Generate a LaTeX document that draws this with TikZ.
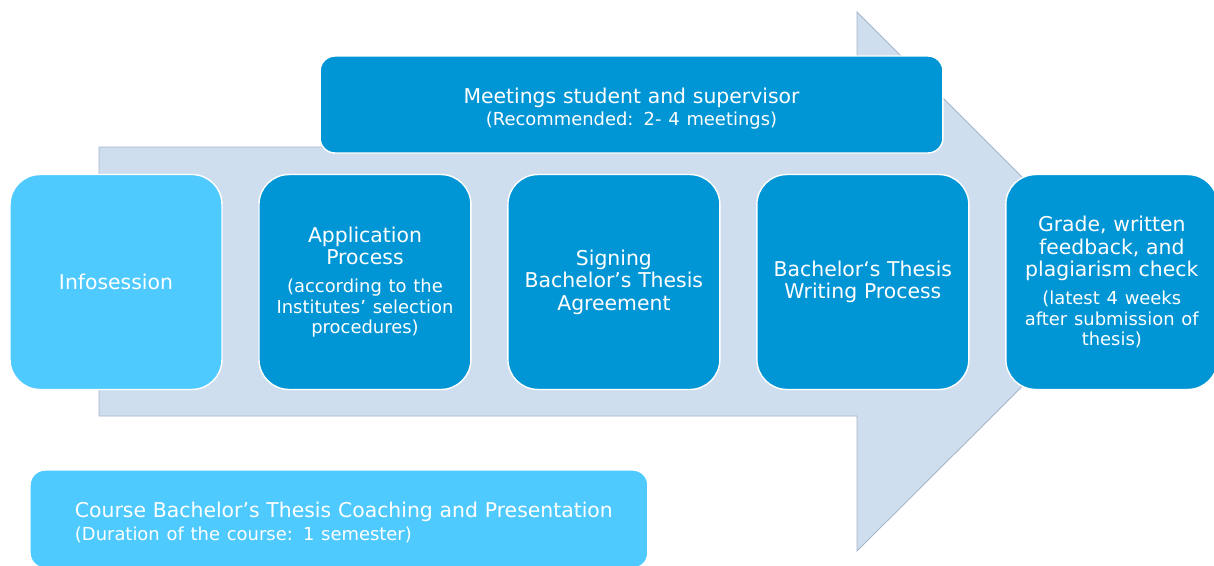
\documentclass[tikz,border=0pt]{standalone}
\usepackage{fontspec}
\setmainfont{DejaVu Sans}
\usepackage{tikz}
\usetikzlibrary{
  positioning
}
\definecolor{flowsky}{RGB}{79,202,255}
\definecolor{flowblue}{RGB}{0,150,214}
\definecolor{flowshaft}{RGB}{206,222,238}
\definecolor{flowedge}{RGB}{165,180,200}
\newcommand{\flowMain}{\fontsize{11.6}{12.8}\selectfont}
\newcommand{\flowNote}[2][0pt]{\par\vspace{#1}{\fontsize{10.2}{11.5}\selectfont #2\par}}
\tikzset{
  flowStep/.style={
    rectangle,
    rounded corners=0.6cm,
    draw=white,
    line width=0.8pt,
    fill=flowblue,
    text=white,
    font=\flowMain,
    inner sep=0pt,
    outer sep=0pt,
    minimum width=4.24cm,
    minimum height=4.3cm,
    text width=3.9cm,
    align=center
  },
  flowStart/.style={
    flowStep,
    fill=flowsky
  },
  flowBanner/.style={
    rectangle,
    rounded corners=0.3cm,
    draw=white,
    line width=0.8pt,
    fill=flowblue,
    text=white,
    font=\flowMain,
    inner sep=0pt,
    outer sep=0pt,
    align=center
  },
  flowShaft/.style={
    fill=flowshaft,
    draw=flowedge,
    line width=0.5pt
  }
}

\begin{document}
\begin{tikzpicture}[x=0.02cm, y=-0.02cm]
  \useasboundingbox (0,0) rectangle (1214,565);

  % the big arrow behind the steps
  \draw[flowShaft] (99,147) -- (857,147) -- (857,12) -- (1127,282)
    -- (857,551) -- (857,416) -- (99,416) -- cycle;

  \node[flowStart] (infosession) at (116,282) {Infosession};

  \node[flowStep, right=0.74cm of infosession]
    (application) {Application\\Process\flowNote[4.5pt]{(according to the\\Institutes’ selection\\procedures)}};

  \node[flowStep, right=0.74cm of application]
    (agreement) {Signing\\Bachelor’s Thesis\\Agreement};

  \node[flowStep, right=0.74cm of agreement]
    (writing) {Bachelor‘s Thesis\\Writing Process};

  \node[flowStep, right=0.74cm of writing]
    (grading) {Grade, written\\feedback, and\\plagiarism check\flowNote[4.5pt]{(latest 4 weeks\\after submission of\\thesis)}};

  \node[flowBanner, minimum width=12.46cm, minimum height=1.94cm, text width=12cm]
    (meetings) at (631.5,104.5) {\rule{0pt}{13.3pt}Meetings student and supervisor\flowNote[1pt]{(Recommended: 2- 4 meetings)}};

  \node[flowBanner, fill=flowsky, anchor=north west, minimum width=12.36cm,
    minimum height=1.96cm, text width=11.86cm, align=left]
    (course) at (30,470) {\leftskip=0.65cm \rule{0pt}{12.8pt}Course Bachelor’s Thesis Coaching and Presentation\flowNote[1.5pt]{(Duration of the course: 1 semester)}};
\end{tikzpicture}
\end{document}
